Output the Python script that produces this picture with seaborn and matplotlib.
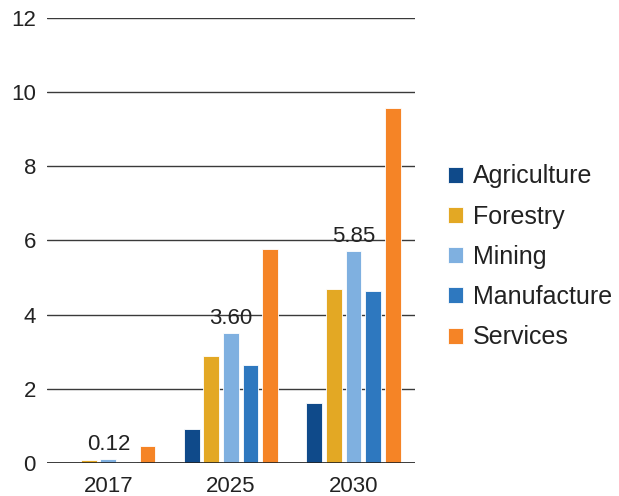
import pandas as pd
import matplotlib.pyplot as plt
import seaborn as sns

# Values
years = ["2017", "2025", "2030"]
sectors = ["Agriculture", "Forestry", "Mining", "Manufacture", "Services"]
agriculture = [0.01, 0.91, 1.61]
forestry = [0.07, 2.89, 4.69]
mining = [0.10, 3.51, 5.71]
manufacture = [0.04, 2.65, 4.65]
services = [0.47, 5.78, 9.56]
mining_labels = ["0.12", "3.60", "5.85"]
colors = ["#0f4a8a", "#e3a824", "#7fb0e0", "#2e78bf", "#f58426"]

# Long-form table for seaborn
series = [agriculture, forestry, mining, manufacture, services]
rows = []
for name, vals in zip(sectors, series):
    for yr, v in zip(years, vals):
        rows.append({"Year": yr, "Sector": name, "Value": v})
df = pd.DataFrame(rows)

sns.set_style("white")
plt.rcParams['font.family'] = ['Liberation Sans', 'DejaVu Sans']

fig = plt.figure(figsize=(6.19, 4.96), dpi=100)
ax = fig.add_axes([0.076, 0.0665, 0.594, 0.8975])

sns.barplot(data=df, x="Year", y="Value", hue="Sector", order=years,
            hue_order=sectors, palette=colors, saturation=1, width=0.8,
            gap=0.2, edgecolor="white", linewidth=0.6, ax=ax, zorder=3)

# Value labels above the Mining bars
ax.bar_label(ax.containers[2], labels=mining_labels, padding=3,
             fontsize=16, color="#222222")

ax.set_xlim(-0.5, 2.5)
ax.set_ylim(0, 12)
ax.set_yticks(range(0, 13, 2))
ax.yaxis.grid(True, color="#3a3a3a", linewidth=1.0, zorder=0)
ax.set_axisbelow(True)
for s in ax.spines.values():
    s.set_visible(False)
ax.axhline(0, color="#222222", linewidth=1.2, zorder=4)
ax.tick_params(axis="both", length=0, labelsize=16, colors="#222222")
ax.tick_params(axis="y", pad=8)
ax.tick_params(axis="x", pad=9)
ax.set_xlabel("")
ax.set_ylabel("")

# Legend on the right
handles, labels = ax.get_legend_handles_labels()
ax.legend(handles, labels, loc="center left", bbox_to_anchor=(1.09, 0.463),
          frameon=False, fontsize=18, borderpad=0, borderaxespad=0,
          handlelength=0.6, handleheight=0.6, handletextpad=0.4,
          labelspacing=0.65, labelcolor="#222222")

plt.savefig("out.png", dpi=100)
